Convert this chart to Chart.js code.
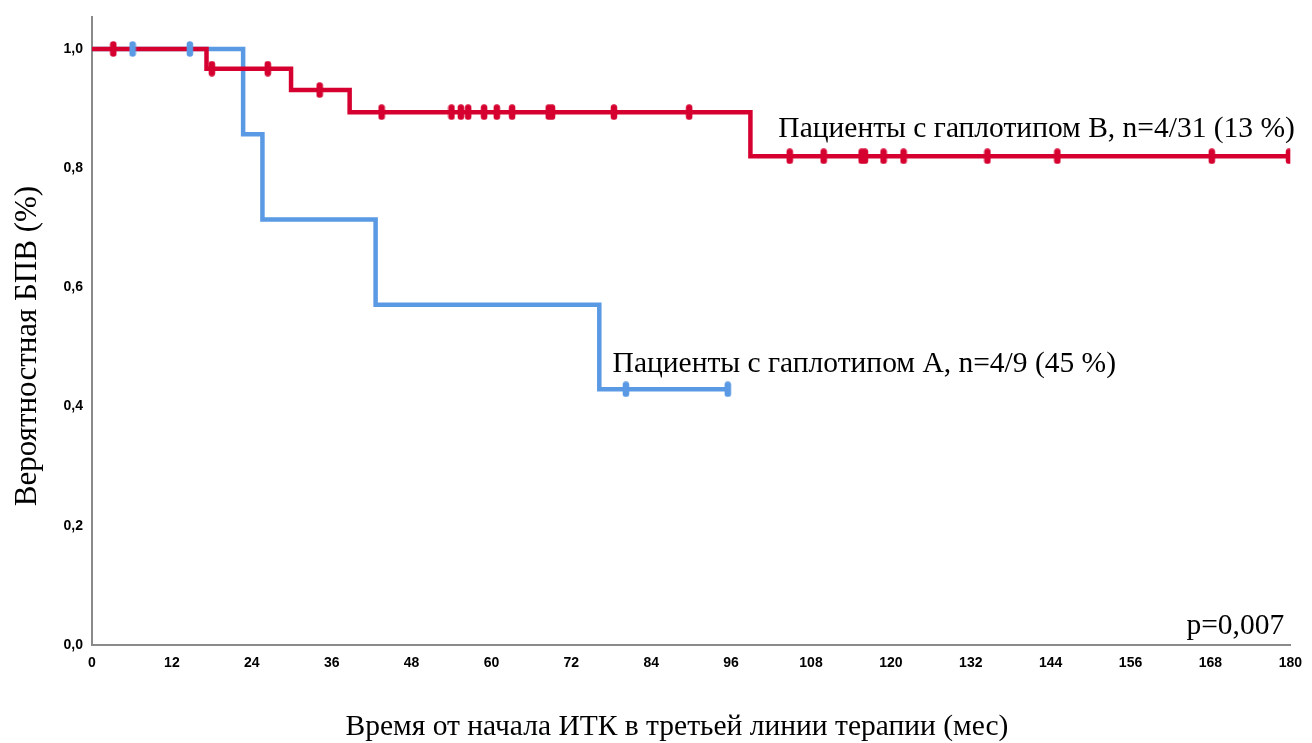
<!DOCTYPE html>
<html>
<head>
<meta charset="utf-8">
<script src="https://cdn.jsdelivr.net/npm/chart.js@4"></script>
<style>
  html, body { margin: 0; padding: 0; background: #fff; }
  #wrap { width: 1312px; height: 743px; }
</style>
</head>
<body>
<div id="wrap"><canvas id="km" width="1312" height="743"></canvas></div>
<script>
// Kaplan–Meier curves: time (months) and survival probability at each step
const redTimes = [0, 17.2, 29.9, 38.7, 98.9, 179.8];
const redSurv  = [1.0, 0.967, 0.931, 0.894, 0.82, 0.82];
const redCensorTimes = [3.2, 18.0, 26.4, 34.2, 43.5, 54.0, 55.4, 56.5, 58.9, 60.8, 63.1, 68.6, 69.1,
                        78.4, 89.7, 104.8, 109.9, 115.6, 116.1, 118.9, 121.9, 134.5, 145.0, 168.2, 179.8];

const blueTimes = [0, 22.7, 25.6, 42.6, 76.2, 95.5];
const blueSurv  = [1.0, 0.857, 0.714, 0.571, 0.429, 0.429];
const blueCensorTimes = [6.1, 14.7, 80.2, 95.5];

const xTickValues = [0, 12, 24, 36, 48, 60, 72, 84, 96, 108, 120, 132, 144, 156, 168, 180];
const yTickValues = [0, 0.2, 0.4, 0.6, 0.8, 1.0];

const labelB = 'Пациенты с гаплотипом В, n=4/31 (13 %)';
const labelA = 'Пациенты с гаплотипом А, n=4/9 (45 %)';
const pLabel = 'p=0,007';
const xTitle = 'Время от начала ИТК в третьей линии терапии (мес)';
const yTitle = 'Вероятностная БПВ (%)';

const RED = '#D5002F';
const BLUE = '#5A99E4';

// survival value of a step curve at time t
function survAt(times, surv, t) {
  let v = surv[0];
  for (let i = 0; i < times.length; i++) {
    if (times[i] <= t) v = surv[i];
  }
  return v;
}

const toPoints = (times, surv) => times.map((t, i) => ({ x: t, y: surv[i] }));
const censorPoints = (ct, times, surv) => ct.map(t => ({ x: t, y: survAt(times, surv, t) }));

// rounded vertical tick used as the censoring marker
function censorMark(color) {
  const c = document.createElement('canvas');
  c.width = 8; c.height = 16;
  const g = c.getContext('2d');
  g.strokeStyle = color;
  g.lineWidth = 6.5;
  g.lineCap = 'round';
  g.beginPath();
  g.moveTo(4, 3.5);
  g.lineTo(4, 12.5);
  g.stroke();
  return c;
}

const serif = "'Liberation Serif', 'Times New Roman', serif";

const textPlugin = {
  id: 'kmText',
  afterDraw(chart) {
    const { ctx, scales: { x, y } } = chart;
    ctx.save();
    ctx.fillStyle = '#000';
    ctx.font = '29.5px ' + serif;
    ctx.textAlign = 'left';
    ctx.textBaseline = 'alphabetic';
    ctx.fillText(labelB, x.getPixelForValue(103.1), y.getPixelForValue(0.853));
    ctx.fillText(labelA, x.getPixelForValue(78.2), y.getPixelForValue(0.458));
    ctx.fillText(pLabel, x.getPixelForValue(164.4), y.getPixelForValue(0.019));

    ctx.textAlign = 'center';
    ctx.textBaseline = 'middle';
    ctx.fillText(xTitle, 677, 727);
    ctx.font = '31px ' + serif;
    ctx.translate(28, 346);
    ctx.rotate(-Math.PI / 2);
    ctx.fillText(yTitle, 0, 0);
    ctx.restore();
  }
};

const tickFont = { family: "'Liberation Sans', Arial, sans-serif", size: 14, weight: 'bold' };

new Chart(document.getElementById('km'), {
  type: 'line',
  data: {
    datasets: [
      {
        label: 'censor B',
        type: 'scatter',
        data: censorPoints(redCensorTimes, redTimes, redSurv),
        pointStyle: censorMark(RED),
        order: 0
      },
      {
        label: 'censor A',
        type: 'scatter',
        data: censorPoints(blueCensorTimes, blueTimes, blueSurv),
        pointStyle: censorMark(BLUE),
        order: 1
      },
      {
        label: 'B',
        data: toPoints(redTimes, redSurv),
        stepped: 'before',
        borderColor: RED,
        borderWidth: 4.5,
        pointRadius: 0,
        fill: false,
        order: 2
      },
      {
        label: 'A',
        data: toPoints(blueTimes, blueSurv),
        stepped: 'before',
        borderColor: BLUE,
        borderWidth: 4.5,
        pointRadius: 0,
        fill: false,
        order: 3
      }
    ]
  },
  options: {
    responsive: false,
    animation: false,
    layout: { padding: { left: 0, right: 18, top: 13, bottom: 0 } },
    plugins: {
      legend: { display: false },
      tooltip: { enabled: false }
    },
    scales: {
      x: {
        type: 'linear',
        min: 0,
        max: 180,
        grid: { display: false, drawTicks: false },
        border: { display: true, color: '#8a8a8a', width: 2 },
        afterBuildTicks: s => { s.ticks = xTickValues.map(v => ({ value: v })); },
        afterFit: s => { s.height = 98; },
        ticks: {
          color: '#000',
          font: tickFont,
          padding: 10,
          maxRotation: 0,
          autoSkip: false,
          callback: v => String(v)
        }
      },
      y: {
        type: 'linear',
        min: 0,
        max: 1.053,
        grid: { display: false, drawTicks: false },
        border: { display: true, color: '#8a8a8a', width: 2 },
        afterBuildTicks: s => { s.ticks = yTickValues.map(v => ({ value: v })); },
        afterFit: s => { s.width = 92; },
        ticks: {
          color: '#000',
          font: tickFont,
          padding: 9,
          callback: v => v.toFixed(1).replace('.', ',')
        }
      }
    }
  },
  plugins: [textPlugin]
});
</script>
</body>
</html>
